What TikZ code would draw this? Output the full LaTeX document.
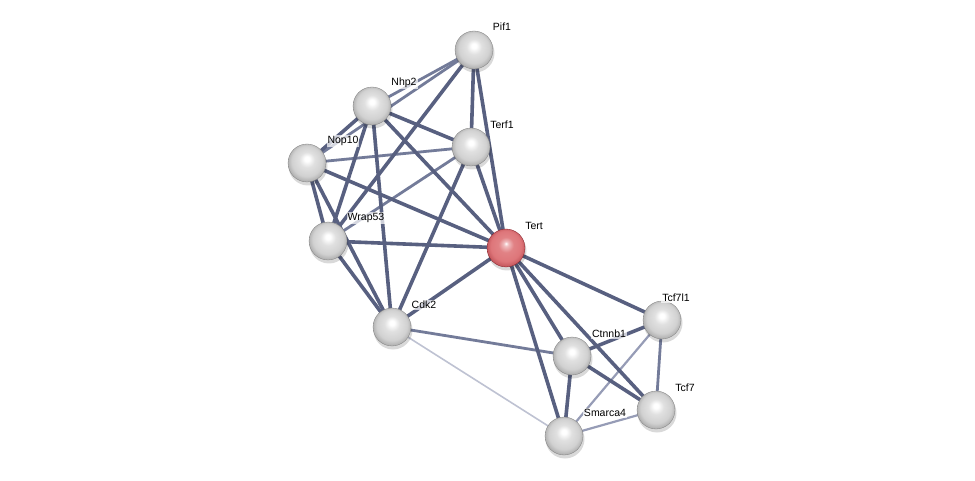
\documentclass[tikz,border=0pt]{standalone}
\usepackage{fontspec}
\setmainfont{Liberation Sans}
\definecolor{rA}{RGB}{240,190,192}
\definecolor{rB}{RGB}{225,130,133}
\definecolor{rC}{RGB}{222,118,122}
\definecolor{rD}{RGB}{190,80,86}
\definecolor{rE}{RGB}{150,45,52}
\definecolor{rF}{RGB}{130,30,38}
\definecolor{eA}{RGB}{88,96,128}
\definecolor{eB}{RGB}{115,123,153}
\definecolor{eC}{RGB}{150,156,182}
\definecolor{eD}{RGB}{190,194,210}
\pgfdeclareradialshading{graysph}{\pgfpoint{0bp}{6bp}}{%
  color(0bp)=(white); color(3bp)=(white); color(10bp)=(black!12);
  color(20bp)=(black!18); color(27bp)=(black!34); color(31bp)=(black!55); color(34bp)=(black!65)}
\pgfdeclareradialshading{redsph}{\pgfpoint{0bp}{6bp}}{%
  color(0bp)=(white); color(3bp)=(rA); color(10bp)=(rB);
  color(20bp)=(rC); color(27bp)=(rD); color(31bp)=(rE); color(34bp)=(rF)}
\begin{document}
\begin{tikzpicture}[x=1pt,y=-1pt,
  ball/.style={circle,minimum size=38pt,inner sep=0pt,shading=graysph,
    draw=black!50,line width=0.3pt},
  redball/.style={ball,shading=redsph,draw=rF},
  shadow/.style={fill=black,opacity=0.15},
  lbl/.style={font=\fontsize{10.5pt}{12pt}\selectfont,inner sep=1pt,fill=white,fill opacity=0.7,text opacity=1},
  e1/.style={line width=3.6pt,draw=eA},
  e2/.style={line width=2.8pt,draw=eB},
  e3/.style={line width=2.2pt,draw=eC},
  e4/.style={line width=1.6pt,draw=eD}]
\useasboundingbox (0,0) rectangle (975,481);
% node coordinates
\coordinate (pif1) at (474,50);
\coordinate (nhp2) at (372,106);
\coordinate (terf1) at (471,147);
\coordinate (nop10) at (307,163);
\coordinate (wrap53) at (328,241);
\coordinate (tert) at (506,248);
\coordinate (cdk2) at (392,327);
\coordinate (tcf7l1) at (662,320);
\coordinate (ctnnb1) at (572,356);
\coordinate (tcf7) at (656,410);
\coordinate (smarca4) at (564,436);
% edges
\draw[e4] (cdk2) -- (smarca4);
\draw[e3] (smarca4) -- (tcf7);
\draw[e3] (tcf7l1) -- (smarca4);
\draw[e2] (cdk2) -- (ctnnb1);
\draw[e2] (nop10) -- (terf1);
\draw[e2] (terf1) -- (wrap53);
\draw[e2] (pif1) -- (nhp2);
\draw[e2] (pif1) -- (nop10);
\draw[e1] (pif1) -- (wrap53);
\draw[e1] (pif1) -- (terf1);
\draw[e1] (pif1) -- (tert);
\draw[e1] (nhp2) -- (nop10);
\draw[e1] (nhp2) -- (terf1);
\draw[e1] (nhp2) -- (tert);
\draw[e1] (nhp2) -- (wrap53);
\draw[e1] (nhp2) -- (cdk2);
\draw[e1] (nop10) -- (tert);
\draw[e1] (nop10) -- (wrap53);
\draw[e1] (nop10) -- (cdk2);
\draw[e1] (terf1) -- (cdk2);
\draw[e1] (terf1) -- (tert);
\draw[e1] (wrap53) -- (tert);
\draw[e1] (wrap53) -- (cdk2);
\draw[e1] (cdk2) -- (tert);
\draw[e1] (tert) -- (tcf7l1);
\draw[e1] (tert) -- (ctnnb1);
\draw[e1] (tert) -- (smarca4);
\draw[e1] (tert) -- (tcf7);
\draw[e1] (ctnnb1) -- (tcf7l1);
\draw[e1] (ctnnb1) -- (tcf7);
\draw[e1] (ctnnb1) -- (smarca4);
\draw[e2] (tcf7l1) -- (tcf7);
% shadows
\foreach \c in {pif1,nhp2,terf1,nop10,wrap53,tert,cdk2,tcf7l1,ctnnb1,tcf7,smarca4}
  \fill[shadow] ([shift={(1,3)}]\c) circle (19.5);
% balls
\node[ball] (Pif1) at (pif1) {};
\node[ball] (Nhp2) at (nhp2) {};
\node[ball] (Terf1) at (terf1) {};
\node[ball] (Nop10) at (nop10) {};
\node[ball] (Wrap53) at (wrap53) {};
\node[redball] (Tert) at (tert) {};
\node[ball] (Cdk2) at (cdk2) {};
\node[ball] (Tcf7l1) at (tcf7l1) {};
\node[ball] (Ctnnb1) at (ctnnb1) {};
\node[ball] (Tcf7) at (tcf7) {};
\node[ball] (Smarca4) at (smarca4) {};
% labels
\node[lbl] (lPif1) at (502,27) {Pif1};
\node[lbl] (lNhp2) at (404,83) {Nhp2};
\node[lbl] (lTerf1) at (502,125) {Terf1};
\node[lbl] (lNop10) at (343,141) {Nop10};
\node[lbl] (lWrap53) at (366,218) {Wrap53};
\node[lbl] (lTert) at (534,226) {Tert};
\node[lbl] (lCdk2) at (424,305) {Cdk2};
\node[lbl] (lTcf7l1) at (676,298) {Tcf7l1};
\node[lbl] (lCtnnb1) at (609,334) {Ctnnb1};
\node[lbl] (lTcf7) at (685,388) {Tcf7};
\node[lbl] (lSmarca4) at (605,413) {Smarca4};
\end{tikzpicture}
\end{document}
